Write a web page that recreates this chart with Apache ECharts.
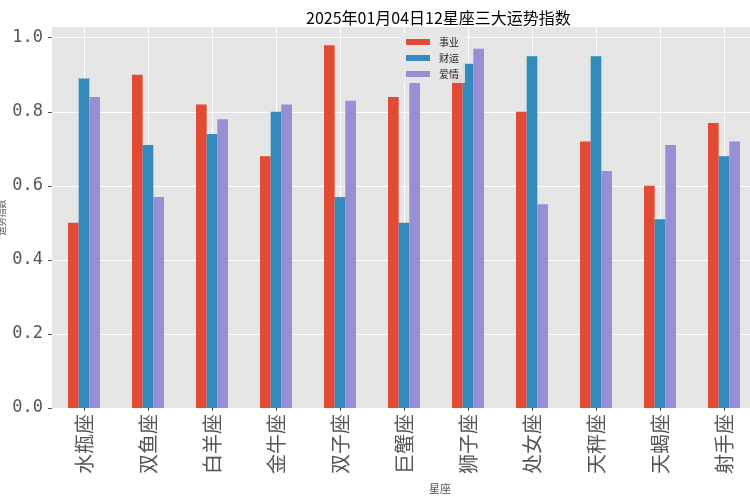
<!DOCTYPE html>
<html>
<head>
<meta charset="utf-8">
<script src="https://cdn.jsdelivr.net/npm/echarts@6/dist/echarts.min.js"></script>
<style>html,body{margin:0;padding:0;background:#fff}#c{width:750px;height:500px}</style>
</head>
<body>
<div id="c"></div>
<script>
const categories = ['水瓶座','双鱼座','白羊座','金牛座','双子座','巨蟹座','狮子座','处女座','天秤座','天蝎座','射手座'];
const career = [0.50, 0.90, 0.82, 0.68, 0.98, 0.84, 0.90, 0.80, 0.72, 0.60, 0.77];
const wealth = [0.89, 0.71, 0.74, 0.80, 0.57, 0.50, 0.93, 0.95, 0.95, 0.51, 0.68];
const love   = [0.84, 0.57, 0.78, 0.82, 0.83, 0.88, 0.97, 0.55, 0.64, 0.71, 0.72];
const seriesNames = ['事业', '财运', '爱情'];
const yTicks = [0, 0.2, 0.4, 0.6, 0.8, 1.0];

const CJK = '"Noto Sans CJK SC", sans-serif';
const chart = echarts.init(document.getElementById('c'), null, {renderer: 'canvas'});
const barCommon = {type: 'bar', barWidth: '16.67%', barGap: '0%', z: 3};
chart.setOption({
  animation: false,
  backgroundColor: '#ffffff',
  title: [
    {text: '2025年01月04日12星座三大运势指数', left: 301, top: 5,
     textStyle: {fontFamily: CJK, fontSize: 16, fontWeight: 'normal', color: '#000'}},
    {text: '星座', left: 424, top: 478,
     textStyle: {fontFamily: CJK, fontSize: 11, fontWeight: 'normal', color: '#555'}}
  ],
  legend: {
    data: seriesNames, orient: 'vertical', left: 400, top: 33,
    itemWidth: 24, itemHeight: 6, itemGap: 6, icon: 'rect',
    backgroundColor: 'rgba(229,229,229,0.9)', padding: [4, 6, 4, 6],
    textStyle: {fontFamily: CJK, fontSize: 10, color: '#222', padding: [0, 0, 0, 4]}
  },
  grid: {left: 52, top: 27, bottom: 92, right: -6, show: true, outerBoundsMode: 'none',
         backgroundColor: '#E5E5E5', borderWidth: 0, containLabel: false},
  xAxis: {
    type: 'category', data: categories,
    axisLine: {show: false},
    axisTick: {show: true, alignWithLabel: true, length: 3, lineStyle: {color: '#555'}},
    axisLabel: {rotate: 90, fontFamily: CJK, fontSize: 20, color: '#555', margin: 6, interval: 0},
    splitLine: {show: false}
  },
  yAxis: {
    type: 'value', min: 0, max: 1.029, interval: 0.2,
    name: '运势指数', nameLocation: 'middle', nameGap: 46, nameRotate: 90, nameMoveOverlap: false,
    nameTextStyle: {fontFamily: CJK, fontSize: 9, color: '#555'},
    axisLine: {show: false},
    axisTick: {show: true, length: 4, lineStyle: {color: '#555'}},
    axisLabel: {fontFamily: '"DejaVu Sans Mono", monospace', fontSize: 17, color: '#555', margin: 9,
      showMaxLabel: false,
      formatter: v => (yTicks.some(t => Math.abs(t - v) < 1e-6) ? v.toFixed(1) : '')},
    splitLine: {show: true, showMaxLine: false, lineStyle: {color: '#ffffff', width: 1}}
  },
  series: [
    {type: 'line', data: [], z: 1, zlevel: 0, silent: true,
     markLine: {silent: true, z: 1, symbol: ['none', 'none'], label: {show: false},
       emphasis: {disabled: true},
       lineStyle: {color: '#ffffff', width: 1, type: 'solid'},
       data: categories.map(c => ({xAxis: c}))}},
    Object.assign({name: seriesNames[0], data: career, itemStyle: {color: '#E24A33'}}, barCommon),
    Object.assign({name: seriesNames[1], data: wealth, itemStyle: {color: '#348ABD'}}, barCommon),
    Object.assign({name: seriesNames[2], data: love, itemStyle: {color: '#988ED5'}}, barCommon)
  ]
});
</script>
</body>
</html>
